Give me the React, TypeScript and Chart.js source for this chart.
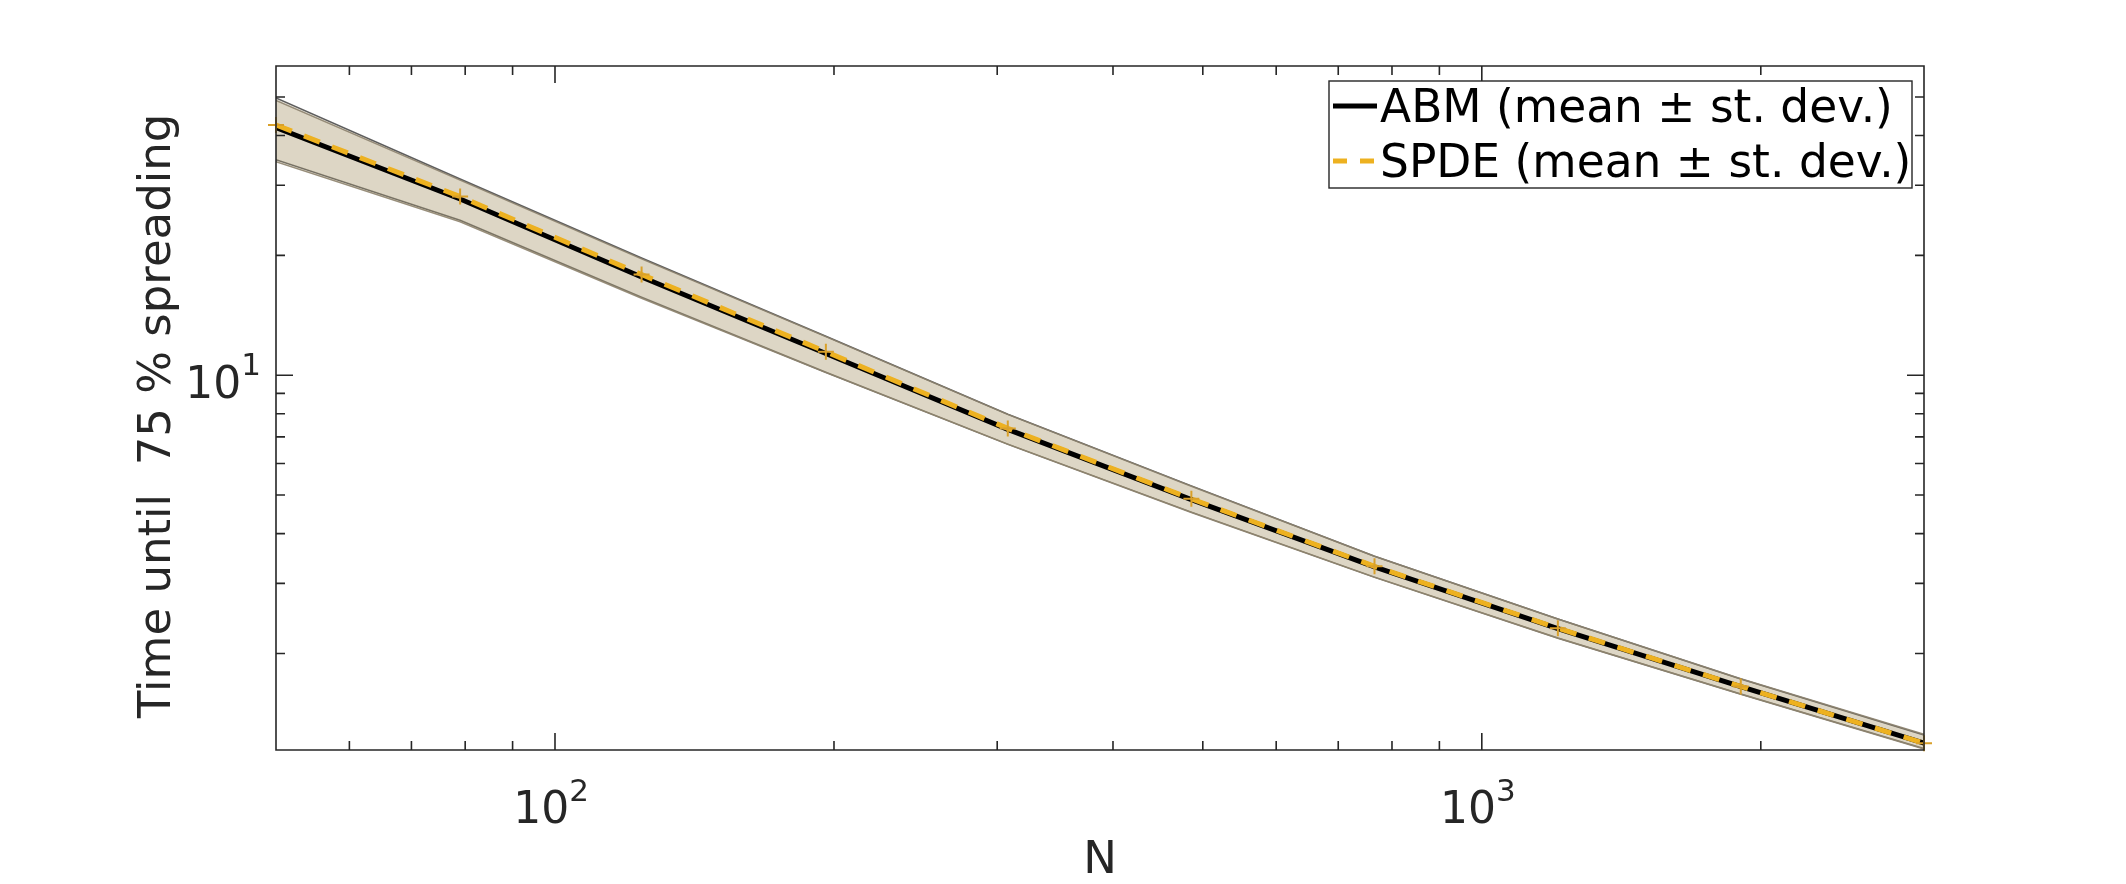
import React, { useEffect, useRef } from 'react';
import { Chart, registerables } from 'chart.js';

Chart.register(...registerables);

// Population sizes (log-spaced) and spreading times
const nValues = [50, 79, 124, 196, 308, 486, 766, 1208, 1903, 3000];

const abmMean = [41.9, 27.7, 17.65, 11.34, 7.31, 4.87, 3.3, 2.31, 1.65, 1.19];
const abmUpper = [49.7, 31.1, 19.7, 12.53, 7.98, 5.27, 3.51, 2.44, 1.725, 1.248];
const abmLower = [34.8, 24.5, 15.7, 10.17, 6.71, 4.53, 3.11, 2.186, 1.582, 1.154];

const spdeMean = [42.5, 28.1, 17.9, 11.45, 7.35, 4.89, 3.31, 2.315, 1.652, 1.19];
const spdeUpper = [49.0, 30.9, 19.6, 12.5, 7.97, 5.26, 3.51, 2.44, 1.728, 1.252];
const spdeLower = [34.4, 24.3, 15.6, 10.15, 6.7, 4.52, 3.105, 2.183, 1.58, 1.15];

// Axis ranges and ticks
const xRange = [50, 3000];
const yRange = [1.144, 59.8];
const xMajorTicks = [100, 1000];
const xMajorExp = ['2', '3'];
const xMinorTicks = [60, 70, 80, 90, 200, 300, 400, 500, 600, 700, 800, 900, 2000];
const yMajorTicks = [10];
const yMajorExp = ['1'];
const yMinorTicks = [2, 3, 4, 5, 6, 7, 8, 9, 20, 30, 40, 50];

const xTitle = 'N';
const yTitle = 'Time until  75 % spreading';
const abmLabel = 'ABM (mean \u00b1 st. dev.)';
const spdeLabel = 'SPDE (mean \u00b1 st. dev.)';

const FONT = '"DejaVu Sans", "Liberation Sans", sans-serif';
const AXIS_COLOR = '#262626';
const ORANGE = '#EDB120';
const BAND_FILL = 'rgba(176,158,116,0.24)';

const pts = (ys: number[]) => nValues.map((n, i) => ({ x: n, y: ys[i] }));

const axesPlugin = {
  id: 'matlabAxes',
  afterDraw(chart: any) {
    const ctx: CanvasRenderingContext2D = chart.ctx;
    const { left, right, top, bottom } = chart.chartArea;
    const xs = chart.scales.x;
    const ys = chart.scales.y;
    ctx.save();
    ctx.strokeStyle = AXIS_COLOR;
    ctx.fillStyle = AXIS_COLOR;
    ctx.lineWidth = 1.6;

    // ticks, drawn inward on all four sides
    const majorLen = 17;
    const minorLen = 9;
    const vTick = (v: number, len: number) => {
      const px = xs.getPixelForValue(v);
      ctx.beginPath();
      ctx.moveTo(px, bottom);
      ctx.lineTo(px, bottom - len);
      ctx.moveTo(px, top);
      ctx.lineTo(px, top + len);
      ctx.stroke();
    };
    const hTick = (v: number, len: number) => {
      const py = ys.getPixelForValue(v);
      ctx.beginPath();
      ctx.moveTo(left, py);
      ctx.lineTo(left + len, py);
      ctx.moveTo(right, py);
      ctx.lineTo(right - len, py);
      ctx.stroke();
    };
    xMinorTicks.forEach((v) => vTick(v, minorLen));
    xMajorTicks.forEach((v) => vTick(v, majorLen));
    yMinorTicks.forEach((v) => hTick(v, minorLen));
    yMajorTicks.forEach((v) => hTick(v, majorLen));

    // box
    ctx.beginPath();
    ctx.rect(left, top, right - left, bottom - top);
    ctx.stroke();

    // tick labels as 10^k
    const baseFont = `44px ${FONT}`;
    const supFont = `31px ${FONT}`;
    ctx.textBaseline = 'alphabetic';
    ctx.textAlign = 'left';
    xMajorTicks.forEach((v, i) => {
      const px = xs.getPixelForValue(v);
      ctx.font = baseFont;
      const w1 = ctx.measureText('10').width;
      ctx.font = supFont;
      const w2 = ctx.measureText(xMajorExp[i]).width;
      const x0 = px - (w1 + w2) / 2 - 4;
      ctx.font = baseFont;
      ctx.fillText('10', x0, bottom + 73);
      ctx.font = supFont;
      ctx.fillText(xMajorExp[i], x0 + w1, bottom + 51);
    });
    yMajorTicks.forEach((v, i) => {
      const py = ys.getPixelForValue(v);
      ctx.font = supFont;
      const w2 = ctx.measureText(yMajorExp[i]).width;
      ctx.font = baseFont;
      const w1 = ctx.measureText('10').width;
      const x1 = left - 15;
      ctx.fillText('10', x1 - w2 - w1, py + 23);
      ctx.font = supFont;
      ctx.fillText(yMajorExp[i], x1 - w2, py);
    });

    // axis titles
    ctx.font = `45px ${FONT}`;
    ctx.textAlign = 'center';
    ctx.fillText(xTitle, (left + right) / 2, bottom + 123);
    ctx.save();
    ctx.translate(170, 718);
    ctx.rotate(-Math.PI / 2);
    ctx.textAlign = 'left';
    ctx.fillText(yTitle, 0, 0);
    ctx.restore();

    // legend
    const lx = 1329, ly = 81, lw = 583, lh = 107;
    ctx.fillStyle = '#ffffff';
    ctx.fillRect(lx, ly, lw, lh);
    ctx.strokeStyle = AXIS_COLOR;
    ctx.lineWidth = 1.4;
    ctx.strokeRect(lx, ly, lw, lh);
    const rows = [
      { label: abmLabel, color: '#000000', dash: [] as number[], y: 106 },
      { label: spdeLabel, color: ORANGE, dash: [14, 13], y: 161 },
    ];
    rows.forEach((r) => {
      ctx.strokeStyle = r.color;
      ctx.lineWidth = 5;
      ctx.setLineDash(r.dash);
      ctx.beginPath();
      ctx.moveTo(1333, r.y);
      ctx.lineTo(1377, r.y);
      ctx.stroke();
      ctx.setLineDash([]);
      ctx.fillStyle = '#000000';
      ctx.font = `45.5px ${FONT}`;
      ctx.textAlign = 'left';
      ctx.fillText(r.label, 1380, r.y + 16);
    });
    ctx.restore();
  },
};

export default function App() {
  const canvasRef = useRef<HTMLCanvasElement | null>(null);

  useEffect(() => {
    if (!canvasRef.current) return;
    const chart = new Chart(canvasRef.current, {
      type: 'line',
      data: {
        datasets: [
          {
            label: 'ABM lower',
            data: pts(abmLower),
            borderColor: 'rgba(85,85,85,0.95)',
            borderWidth: 1.5,
            pointRadius: 0,
            fill: false,
            order: 5,
          },
          {
            label: 'ABM upper',
            data: pts(abmUpper),
            borderColor: 'rgba(85,85,85,0.95)',
            borderWidth: 1.5,
            pointRadius: 0,
            backgroundColor: BAND_FILL,
            fill: '-1',
            order: 4,
          },
          {
            label: 'SPDE lower',
            data: pts(spdeLower),
            borderColor: 'rgba(140,130,110,0.9)',
            borderWidth: 1.5,
            pointRadius: 0,
            fill: false,
            order: 3,
          },
          {
            label: 'SPDE upper',
            data: pts(spdeUpper),
            borderColor: 'rgba(140,130,110,0.9)',
            borderWidth: 1.5,
            pointRadius: 0,
            backgroundColor: BAND_FILL,
            fill: '-1',
            order: 2,
          },
          {
            label: abmLabel,
            data: pts(abmMean),
            borderColor: '#000000',
            borderWidth: 5,
            pointRadius: 0,
            fill: false,
            order: 1,
          },
          {
            label: spdeLabel,
            data: pts(spdeMean),
            borderColor: ORANGE,
            borderWidth: 5,
            borderDash: [17, 13],
            pointStyle: 'cross',
            pointRadius: 8,
            pointBorderWidth: 2,
            pointBorderColor: '#D9A02A',
            fill: false,
            clip: 12,
            order: 0,
          },
        ],
      },
      options: {
        animation: false,
        responsive: false,
        devicePixelRatio: 1,
        layout: { padding: { left: 276, right: 202, top: 66, bottom: 134 } },
        elements: { line: { tension: 0 } },
        plugins: {
          legend: { display: false },
          tooltip: { enabled: false },
        },
        scales: {
          x: { type: 'logarithmic', min: xRange[0], max: xRange[1], display: false },
          y: { type: 'logarithmic', min: yRange[0], max: yRange[1], display: false },
        },
      },
      plugins: [axesPlugin],
    });
    return () => chart.destroy();
  }, []);

  return (
    <div style={{ position: 'fixed', left: 0, top: 0, width: 2126, height: 884, background: '#ffffff' }}>
      <canvas ref={canvasRef} width={2126} height={884} />
    </div>
  );
}
